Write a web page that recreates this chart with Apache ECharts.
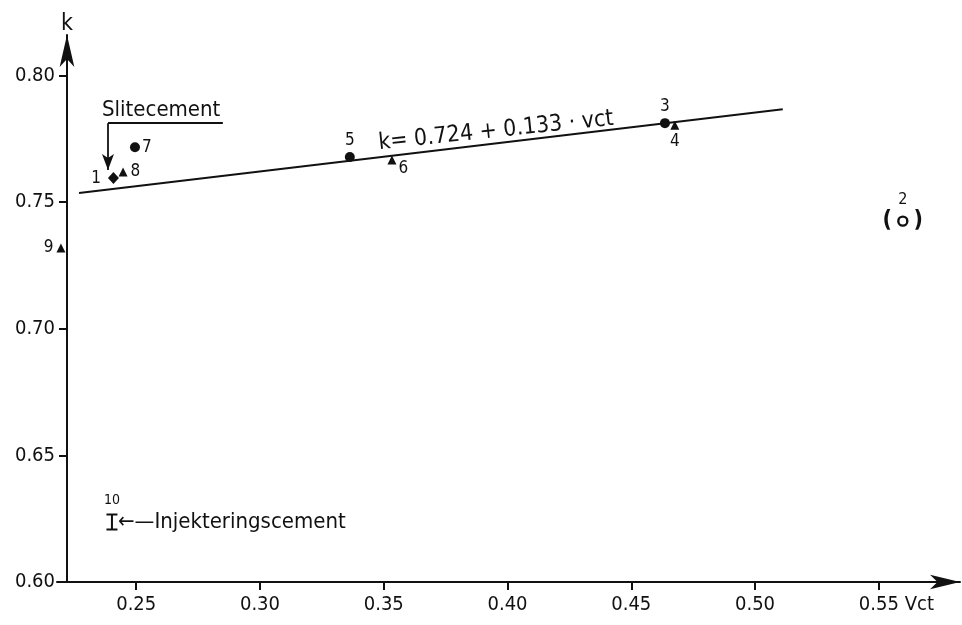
<!DOCTYPE html>
<html><head><meta charset="utf-8">
<script src="https://cdn.jsdelivr.net/npm/echarts@6/dist/echarts.min.js"></script>
<style>html,body{margin:0;padding:0;background:#fff}#c{width:962px;height:625px}</style>
</head><body><div id="c"></div>
<script>
const FONT = '"DejaVu Sans Condensed","Liberation Sans Narrow","DejaVu Sans",sans-serif';
const INK = '#111111';

// axis ticks
const xTicks = [0.25, 0.30, 0.35, 0.40, 0.45, 0.50, 0.55];
const yTicks = [0.60, 0.65, 0.70, 0.75, 0.80];

// filled circles
const circleIds = ['7', '5', '3'];
const circleVct = [0.2495, 0.3363, 0.4636];
const circleK   = [0.7717, 0.7678, 0.7812];

// filled triangles
const triangleIds = ['8', '9', '6', '4'];
const triangleVct = [0.2447, 0.2196, 0.3533, 0.4676];
const triangleK   = [0.7619, 0.7319, 0.7666, 0.7804];

// filled diamond
const diamondIds = ['1'];
const diamondVct = [0.2408];
const diamondK   = [0.7595];

// open circle (in brackets)
const openIds = ['2'];
const openVct = [0.5597];
const openK   = [0.7425];

// injection cement (I marker)
const injIds = ['10'];
const injVct = [0.2402];
const injK   = [0.6237];

// regression line end points
const fitVct = [0.2269, 0.5112];
const fitK   = [0.7536, 0.7867];
const equationText = 'k= 0.724 + 0.133 · vct';

// Slitecement bracket
const bracketVct = [0.2850, 0.2386, 0.2386];
const bracketK   = [0.7812, 0.7812, 0.7627];

const labelPos = {
  '7': {position: 'right', distance: 2},
  '5': {position: 'top', distance: 3},
  '3': {position: 'top', distance: 3},
  '8': {position: 'right', distance: 3},
  '9': {position: 'left', distance: 3},
  '6': {position: 'right', distance: 2, offset: [0, 8]},
  '4': {position: 'bottom', distance: 3},
  '1': {position: 'left', distance: 7},
  '10': {position: 'top', distance: 6}
};

function pts(ids, xs, ys) {
  return ids.map((id, i) => ({
    name: id,
    value: [xs[i], ys[i]],
    label: Object.assign({show: true, formatter: id}, labelPos[id] || {})
  }));
}

const baseLabel = {color: INK, fontFamily: FONT, fontSize: 17};

const chart = echarts.init(document.getElementById('c'), null, {renderer: 'canvas'});
chart.setOption({
  animation: false,
  backgroundColor: '#fff',
  grid: {left: 57, right: 2, top: 35, bottom: 43},
  xAxis: {
    type: 'value', min: 0.218, max: 0.5828,
    splitLine: {show: false},
    axisLine: {lineStyle: {color: INK, width: 2}, symbol: ['none', 'arrow'], symbolSize: [11, 30]},
    axisTick: {customValues: xTicks, length: 8, lineStyle: {color: INK, width: 2}},
    axisLabel: {customValues: xTicks, formatter: v => v.toFixed(2), margin: 13,
      color: INK, fontFamily: FONT, fontSize: 20},
    name: 'Vct', nameLocation: 'end', nameGap: -58,
    nameTextStyle: {color: INK, fontFamily: FONT, fontSize: 20, verticalAlign: 'top', padding: [13, 0, 0, 0]}
  },
  yAxis: {
    type: 'value', min: 0.60, max: 0.816, offset: -10,
    splitLine: {show: false},
    axisLine: {lineStyle: {color: INK, width: 2}, symbol: ['none', 'arrow'], symbolSize: [11, 32]},
    axisTick: {customValues: yTicks, length: 8, lineStyle: {color: INK, width: 2}},
    axisLabel: {customValues: yTicks, formatter: v => v.toFixed(2), margin: 12,
      color: INK, fontFamily: FONT, fontSize: 20},
    name: 'k', nameLocation: 'end', nameGap: -1,
    nameTextStyle: {color: INK, fontFamily: FONT, fontSize: 23}
  },
  series: [
    {
      type: 'line', name: 'fit',
      data: fitVct.map((x, i) => [x, fitK[i]]),
      symbol: 'none', silent: true,
      lineStyle: {color: INK, width: 2},
      markLine: {
        silent: true, animation: false,
        label: {show: false},
        lineStyle: {color: INK, width: 1.8, type: 'solid'},
        symbolSize: [9, 16],
        data: [
          [{coord: [bracketVct[0], bracketK[0]], symbol: 'none'}, {coord: [bracketVct[1], bracketK[1]], symbol: 'none'}],
          [{coord: [bracketVct[1], bracketK[1]], symbol: 'none'}, {coord: [bracketVct[2], bracketK[2]], symbol: 'arrow'}]
        ]
      }
    },
    {
      type: 'scatter', name: 'circles', symbol: 'circle', symbolSize: 10,
      itemStyle: {color: INK, opacity: 1}, label: baseLabel,
      data: pts(circleIds, circleVct, circleK)
    },
    {
      type: 'scatter', name: 'triangles', symbol: 'triangle', symbolSize: 9,
      itemStyle: {color: INK, opacity: 1}, label: baseLabel,
      data: pts(triangleIds, triangleVct, triangleK)
    },
    {
      type: 'scatter', name: 'diamond', symbol: 'diamond', symbolSize: [11, 12],
      itemStyle: {color: INK, opacity: 1}, label: baseLabel,
      data: pts(diamondIds, diamondVct, diamondK)
    },
    {
      type: 'scatter', name: 'open', symbol: 'circle', symbolSize: 9,
      itemStyle: {color: '#fff', borderColor: INK, borderWidth: 2.4, opacity: 1},
      label: {
        show: true, position: 'inside', offset: [0, -8],
        formatter: () => '{a|' + openIds[0] + '}\n{b|(   )}',
        rich: {
          a: {fontFamily: FONT, fontSize: 16, color: INK, lineHeight: 16, align: 'center'},
          b: {fontFamily: FONT, fontSize: 23, color: INK, lineHeight: 26, align: 'center', fontWeight: 'bold'}
        }
      },
      data: openVct.map((x, i) => ({name: openIds[i], value: [x, openK[i]]}))
    },
    {
      type: 'scatter', name: 'inj',
      symbol: 'path://M0,0 H11 V2 H6.5 V15 H11 V17 H0 V15 H4.5 V2 H0 Z', symbolSize: [11, 17],
      itemStyle: {color: INK, opacity: 1}, label: Object.assign({}, baseLabel, {fontSize: 14}),
      data: pts(injIds, injVct, injK)
    }
  ],
  graphic: [
    {type: 'text', x: 496, y: 131, rotation: 6 * Math.PI / 180,
      style: {text: equationText, fill: INK, font: '23px ' + FONT, align: 'center', verticalAlign: 'middle'}},
    {type: 'text', x: 102, y: 110,
      style: {text: 'Slitecement', fill: INK, font: '22px ' + FONT, align: 'left', verticalAlign: 'middle'}},
    {type: 'text', x: 118, y: 522,
      style: {text: '←—Injekteringscement', fill: INK, font: '22px ' + FONT, align: 'left', verticalAlign: 'middle'}}
  ]
});
</script>
</body></html>
